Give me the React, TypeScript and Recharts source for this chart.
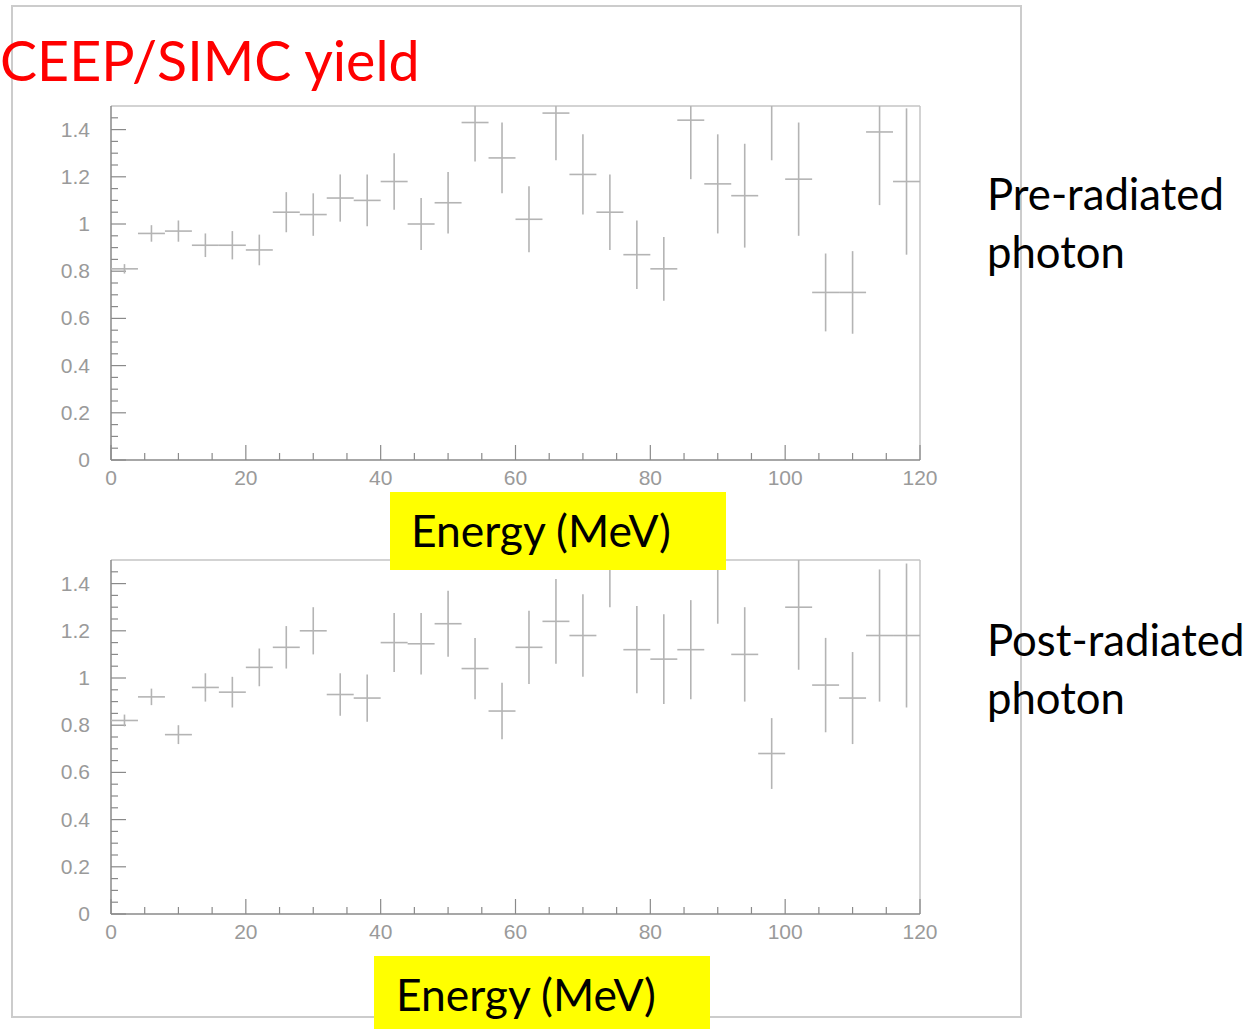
import React from 'react';
import { ScatterChart, Scatter, XAxis, YAxis, ErrorBar, ReferenceLine } from 'recharts';

const binCenters = [2, 6, 10, 14, 18, 22, 26, 30, 34, 38, 42, 46, 50, 54, 58, 62, 66, 70, 74, 78, 82, 86, 90, 94, 98, 102, 106, 110, 114, 118];
const binHalfWidth = 2;

const preYield = [0.81, 0.96, 0.97, 0.91, 0.91, 0.89, 1.05, 1.04, 1.11, 1.10, 1.18, 1.00, 1.09, 1.43, 1.28, 1.02, 1.47, 1.21, 1.05, 0.87, 0.81, 1.44, 1.17, 1.12, 1.55, 1.19, 0.71, 0.71, 1.39, 1.18];
const preErr = [0.02, 0.035, 0.045, 0.05, 0.06, 0.065, 0.085, 0.09, 0.10, 0.11, 0.12, 0.11, 0.13, 0.165, 0.15, 0.14, 0.2, 0.17, 0.16, 0.145, 0.135, 0.25, 0.21, 0.22, 0.28, 0.24, 0.165, 0.175, 0.31, 0.31];

const postYield = [0.82, 0.92, 0.76, 0.96, 0.94, 1.045, 1.13, 1.20, 0.93, 0.915, 1.15, 1.145, 1.23, 1.04, 0.86, 1.13, 1.24, 1.18, 1.53, 1.12, 1.08, 1.12, 1.52, 1.10, 0.68, 1.30, 0.97, 0.915, 1.18, 1.18];
const postErr = [0.025, 0.035, 0.04, 0.06, 0.065, 0.08, 0.09, 0.10, 0.09, 0.10, 0.125, 0.13, 0.14, 0.13, 0.12, 0.155, 0.18, 0.175, 0.23, 0.185, 0.19, 0.21, 0.29, 0.20, 0.15, 0.265, 0.2, 0.195, 0.28, 0.305];

const xTicks = [0, 5, 10, 15, 20, 25, 30, 35, 40, 45, 50, 55, 60, 65, 70, 75, 80, 85, 90, 95, 100, 105, 110, 115, 120];
const yTicks = [0, 0.05, 0.1, 0.15, 0.2, 0.25, 0.3, 0.35, 0.4, 0.45, 0.5, 0.55, 0.6, 0.65, 0.7, 0.75, 0.8, 0.85, 0.9, 0.95, 1, 1.05, 1.1, 1.15, 1.2, 1.25, 1.3, 1.35, 1.4, 1.45];

const titleText = 'CEEP/SIMC yield';
const xLabelText = 'Energy (MeV)';
const panelLabels = [['Pre-radiated', 'photon'], ['Post-radiated', 'photon']];

const build = (ys: number[], es: number[]) =>
  binCenters.map((x, i) => ({ x, y: ys[i], err: es[i], xerr: binHalfWidth }));

const preData = build(preYield, preErr);
const postData = build(postYield, postErr);

const AXIS = '#8a8a8a';
const TICKTXT = '#9a9a9a';
const MARK = '#b4b4b4';

const CW = 960;
const CH = 510;
const MARGIN = { top: 106, right: 40, bottom: 20, left: 0 };
const YW = 111;
const XH = 30;

const XTick = (props: any) => {
  const { x, y, payload } = props;
  const v = payload.value;
  const major = Math.abs(v % 20) < 1e-6;
  return (
    <g>
      <line x1={x} x2={x} y1={y} y2={y - (major ? 15 : 7)} stroke={AXIS} strokeWidth={1.2} />
      {major && (
        <text x={x} y={y + 25} textAnchor="middle" fontSize={21} fill={TICKTXT} fontFamily="Liberation Sans">
          {v}
        </text>
      )}
    </g>
  );
};

const YTick = (props: any) => {
  const { x, y, payload } = props;
  const v = payload.value;
  const r = v / 0.2;
  const major = Math.abs(r - Math.round(r)) < 1e-6;
  const label = Math.abs(v - Math.round(v)) < 1e-6 ? String(Math.round(v)) : v.toFixed(1);
  return (
    <g>
      <line x1={x} x2={x + (major ? 15 : 7)} y1={y} y2={y} stroke={AXIS} strokeWidth={1.2} />
      {major && (
        <text x={x - 21} y={y + 7} textAnchor="end" fontSize={21} fill={TICKTXT} fontFamily="Liberation Sans">
          {label}
        </text>
      )}
    </g>
  );
};

const makeChart = (data: any[] | null, showAxes: boolean) => (
  <ScatterChart width={CW} height={CH} margin={MARGIN}>
    <XAxis
      type="number"
      dataKey="x"
      domain={[0, 120]}
      ticks={xTicks}
      interval={0}
      tickSize={0}
      tickMargin={0}
      tickLine={false}
      axisLine={showAxes ? { stroke: AXIS, strokeWidth: 1.5 } : false}
      tick={showAxes ? (p: any) => <XTick {...p} /> : false}
      height={XH}
      allowDataOverflow
    />
    <YAxis
      type="number"
      dataKey="y"
      domain={[0, 1.5]}
      ticks={yTicks}
      interval={0}
      tickSize={0}
      tickMargin={0}
      tickLine={false}
      axisLine={showAxes ? { stroke: AXIS, strokeWidth: 1.5 } : false}
      tick={showAxes ? (p: any) => <YTick {...p} /> : false}
      width={YW}
      allowDataOverflow
    />
    {showAxes && <ReferenceLine y={1.5} stroke="#c4c4c4" strokeWidth={1.5} />}
    {showAxes && <ReferenceLine x={120} stroke="#c4c4c4" strokeWidth={1.5} />}
    {data && (
      <Scatter data={data} isAnimationActive={false} shape={() => <g />}>
        <ErrorBar dataKey="xerr" direction="x" width={0} stroke={MARK} strokeWidth={1.6} isAnimationActive={false} />
        <ErrorBar dataKey="err" direction="y" width={0} stroke={MARK} strokeWidth={1.6} isAnimationActive={false} />
      </Scatter>
    )}
  </ScatterChart>
);

const Panel = ({ data, top }: { data: any[]; top: number }) => (
  <>
    <div style={{ position: 'absolute', left: 0, top }}>{makeChart(null, true)}</div>
    <div
      style={{
        position: 'absolute',
        left: 0,
        top,
        clipPath: `inset(${MARGIN.top}px ${MARGIN.right}px ${MARGIN.bottom + XH}px ${MARGIN.left + YW}px)`,
      }}
    >
      {makeChart(data, false)}
    </div>
  </>
);

const FONT = 'Lato, "Open Sans", sans-serif';

export default function App() {
  return (
    <div style={{ position: 'absolute', left: 0, top: 0, width: 1249, height: 1029, background: '#fff', overflow: 'hidden' }}>
      <svg width={1249} height={1029} style={{ position: 'absolute', left: 0, top: 0 }}>
        <rect x={12} y={6} width={1009} height={1011} fill="none" stroke="#cccccc" strokeWidth={2} />
      </svg>
      <Panel data={preData} top={0} />
      <Panel data={postData} top={454} />
      <svg width={1249} height={1029} style={{ position: 'absolute', left: 0, top: 0, pointerEvents: 'none' }}>
        <text x={0} y={81} fontSize={55.5} fill="#ff0000" fontFamily={FONT}>{titleText}</text>
        <rect x={390} y={492} width={336} height={78} fill="#ffff00" />
        <text x={411} y={547} fontSize={44.4} fill="#000" fontFamily={FONT}>{xLabelText}</text>
        <rect x={374} y={956} width={336} height={73} fill="#ffff00" />
        <text x={396} y={1011} fontSize={44.4} fill="#000" fontFamily={FONT}>{xLabelText}</text>
        <text x={987} y={210} fontSize={43.7} fill="#000" fontFamily={FONT}>{panelLabels[0][0]}</text>
        <text x={987} y={268} fontSize={43.7} fill="#000" fontFamily={FONT}>{panelLabels[0][1]}</text>
        <text x={987} y={656} fontSize={43.7} fill="#000" fontFamily={FONT}>{panelLabels[1][0]}</text>
        <text x={987} y={714} fontSize={43.7} fill="#000" fontFamily={FONT}>{panelLabels[1][1]}</text>
      </svg>
    </div>
  );
}
